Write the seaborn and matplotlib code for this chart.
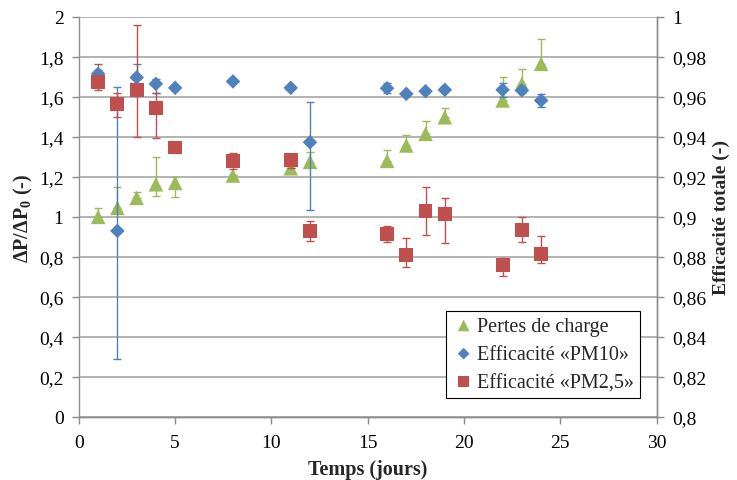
import numpy as np
import pandas as pd
import matplotlib
matplotlib.use("Agg")
import matplotlib.pyplot as plt
import seaborn as sns
from matplotlib.ticker import FuncFormatter, MultipleLocator

# ---------------------------------------------------------
# Data
# ---------------------------------------------------------
days = [1, 2, 3, 4, 5, 8, 11, 12, 16, 17, 18, 19, 22, 23, 24]

# pertes de charge dP/dP0 (left axis)
dp_ratio = [1.0, 1.045, 1.095, 1.163, 1.17, 1.207, 1.243, 1.275,
            1.28, 1.357, 1.415, 1.498, 1.582, 1.665, 1.765]
dp_err_lo = [0, 0, 0, 0.06, 0.07, 0, 0, 0, 0, 0, 0, 0, 0, 0, 0]
dp_err_hi = [0.045, 0.105, 0.03, 0.137, 0.03, 0, 0, 0.05,
             0.055, 0.05, 0.065, 0.045, 0.115, 0.072, 0.125]

# efficacite PM10 (right axis)
pm10 = [0.9715, 0.893, 0.9697, 0.9665, 0.9645, 0.9677, 0.9645, 0.9373,
        0.9643, 0.9615, 0.9628, 0.9635, 0.9635, 0.9632, 0.9582]
pm10_err_lo = [0.002, 0.064, 0.0065, 0.0045, 0, 0, 0, 0.034,
               0.0025, 0, 0, 0, 0.0035, 0.0015, 0.0034]
pm10_err_hi = [0.002, 0.072, 0.0065, 0.0025, 0, 0, 0, 0.020,
               0.0025, 0, 0, 0, 0.0035, 0.0015, 0.003]

# efficacite PM2,5 (right axis)
pm25 = [0.9675, 0.9562, 0.9632, 0.9542, 0.9347, 0.9278, 0.9285, 0.893,
        0.8915, 0.881, 0.9028, 0.9015, 0.876, 0.8935, 0.8815]
pm25_err_lo = [0.0043, 0.0065, 0.0232, 0.0147, 0.0029, 0.0038, 0.0043, 0.005,
               0.0038, 0.006, 0.0118, 0.0145, 0.0053, 0.0062, 0.0047]
pm25_err_hi = [0.0087, 0.0056, 0.0326, 0.0076, 0.0, 0.0042, 0.001, 0.005,
               0.0038, 0.0087, 0.012, 0.0078, 0.0033, 0.0062, 0.0088]

series_labels = ["Pertes de charge", "Efficacité «PM10»", "Efficacité «PM2,5»"]

GREEN = "#9BBB59"
BLUE = "#4F81BD"
RED = "#C0504D"
GRID = "#A6A6A6"

df = pd.DataFrame({"jours": days, "dp": dp_ratio, "pm10": pm10, "pm25": pm25})

# ---------------------------------------------------------
# Style
# ---------------------------------------------------------
sns.set_theme(style="ticks")
plt.rcParams["font.family"] = ["Liberation Serif", "DejaVu Serif"]
plt.rcParams["mathtext.fontset"] = "custom"
plt.rcParams["mathtext.rm"] = "Liberation Serif"
plt.rcParams["mathtext.bf"] = "Liberation Serif:bold"

fig = plt.figure(figsize=(7.37, 4.81), dpi=100)
ax = fig.add_axes([0.107, 0.131, 0.784, 0.832])
ax2 = ax.twinx()


def comma(v, pos):
    return f"{v:g}".replace(".", ",")


# error bars first, markers on top
ax.errorbar(days, dp_ratio, yerr=[dp_err_lo, dp_err_hi], fmt="none",
            ecolor=GREEN, elinewidth=1, capsize=3, capthick=1, zorder=2)
ax2.errorbar(days, pm10, yerr=[pm10_err_lo, pm10_err_hi], fmt="none",
             ecolor=BLUE, elinewidth=1, capsize=3, capthick=1, zorder=2)
ax2.errorbar(days, pm25, yerr=[pm25_err_lo, pm25_err_hi], fmt="none",
             ecolor=RED, elinewidth=1, capsize=3, capthick=1, zorder=2)

sns.scatterplot(data=df, x="jours", y="dp", ax=ax, marker="^", s=110,
                color=GREEN, edgecolor="none", label=series_labels[0],
                legend=False, zorder=3)
sns.scatterplot(data=df, x="jours", y="pm10", ax=ax2, marker="D", s=55,
                color=BLUE, edgecolor="none", label=series_labels[1],
                legend=False, zorder=3)
sns.scatterplot(data=df, x="jours", y="pm25", ax=ax2, marker="s", s=100,
                color=RED, edgecolor="none", label=series_labels[2],
                legend=False, zorder=4)

# axes limits / ticks
ax.set_xlim(0, 30)
ax.set_ylim(0, 2)
ax2.set_ylim(0.8, 1.0)
ax.xaxis.set_major_locator(MultipleLocator(5))
ax.yaxis.set_major_locator(MultipleLocator(0.2))
ax2.yaxis.set_major_locator(MultipleLocator(0.02))
ax.yaxis.set_major_formatter(FuncFormatter(comma))
ax2.yaxis.set_major_formatter(FuncFormatter(comma))

ax.grid(axis="y", color=GRID, linewidth=1.2)
ax.set_axisbelow(True)

for a in (ax, ax2):
    for side in ("left", "right", "bottom"):
        a.spines[side].set_color("#8C8C8C")
        a.spines[side].set_linewidth(1)
    a.spines["top"].set_visible(False)
    a.tick_params(colors="#8C8C8C", labelcolor="black", labelsize=14,
                  length=5, width=1, direction="out")
ax2.spines["left"].set_visible(False)
ax.tick_params(axis="x", pad=7)
ax.tick_params(axis="y", pad=6)
ax2.tick_params(axis="y", pad=6)

ax.set_xlabel("Temps (jours)", fontsize=14.5, fontweight="bold", labelpad=6)
ax.set_ylabel(r"ΔP/ΔP$_\mathbf{0}$ (-)", fontsize=14.5, fontweight="bold",
              labelpad=3)
ax2.set_ylabel("Efficacité totale (-)", fontsize=14, fontweight="bold",
               labelpad=5)
ax2.set_xlabel("")

# legend combining both axes
h1, l1 = ax.get_legend_handles_labels()
h2, l2 = ax2.get_legend_handles_labels()
leg = ax2.legend(h1 + h2, l1 + l2, loc="lower right",
                 bbox_to_anchor=(0.988, 0.022), fontsize=14.5, frameon=True,
                 fancybox=False, edgecolor="black", framealpha=1,
                 handletextpad=0.05, handlelength=1.2, borderpad=0.3,
                 labelspacing=0.45, markerscale=0.8)
leg.get_frame().set_linewidth(0.8)

fig.savefig("out.png", dpi=100)
